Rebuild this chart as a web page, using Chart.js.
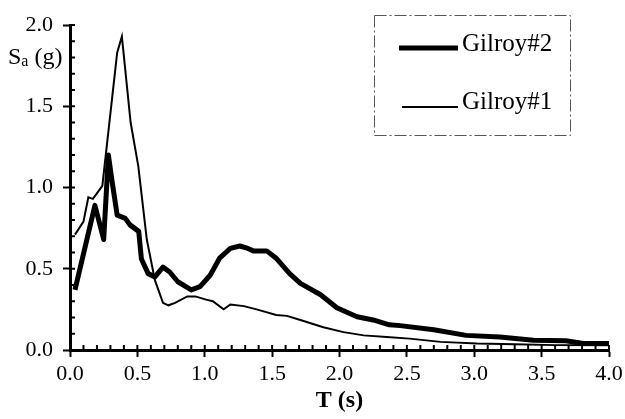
<!DOCTYPE html>
<html><head><meta charset="utf-8">
<script src="https://cdn.jsdelivr.net/npm/chart.js@4"></script>
<style>html,body{margin:0;padding:0;background:#fff}</style>
</head><body>
<canvas id="c" width="625" height="419"></canvas>
<script>
// Gilroy#2 (thick)
const periods2 = [0.037,0.185,0.25,0.285,0.31,0.35,0.41,0.445,0.51,0.53,0.58,0.63,0.69,0.74,0.80,0.90,0.965,1.04,1.11,1.19,1.26,1.32,1.36,1.46,1.53,1.63,1.71,1.86,1.98,2.13,2.25,2.37,2.45,2.70,2.94,3.19,3.44,3.68,3.81,4.0];
const sa2 =      [0.37,0.89,0.68,1.20,1.05,0.83,0.81,0.77,0.73,0.56,0.47,0.45,0.51,0.48,0.42,0.37,0.39,0.46,0.565,0.625,0.64,0.625,0.61,0.61,0.565,0.47,0.41,0.34,0.26,0.205,0.185,0.155,0.15,0.125,0.09,0.08,0.06,0.057,0.04,0.04];
// Gilroy#1 (thin)
const periods1 = [0.037,0.10,0.136,0.17,0.24,0.35,0.385,0.45,0.507,0.57,0.63,0.69,0.73,0.78,0.87,0.93,1.01,1.06,1.14,1.19,1.29,1.385,1.53,1.61,1.71,1.88,2.03,2.18,2.35,2.52,2.75,3.02,3.3,3.6,4.0];
const sa1 =      [0.71,0.79,0.94,0.93,1.01,1.83,1.93,1.40,1.13,0.68,0.43,0.29,0.275,0.29,0.33,0.33,0.31,0.30,0.25,0.28,0.27,0.25,0.215,0.21,0.185,0.14,0.11,0.09,0.08,0.07,0.05,0.04,0.035,0.03,0.03];
const seriesNames = ['Gilroy#2','Gilroy#1'];
const xTitle = 'T (s)';
const yTitleParts = ['S','a',' (g)'];
const xRange = [0, 4], yRange = [0, 2];

const FONT = "'Liberation Serif', 'Times New Roman', serif";

const toPts = (xs, ys) => xs.map((t, i) => ({x: t, y: ys[i]}));

const decor = {
  id: 'decor',
  afterDraw(chart) {
    const {ctx, scales: {x, y}, chartArea: a} = chart;
    ctx.save();
    ctx.strokeStyle = '#000';
    ctx.lineWidth = 2;
    // inward minor + major ticks
    for (let i = 0; i <= 40; i++) {
      const px = x.getPixelForValue(i / 10);
      ctx.beginPath(); ctx.moveTo(px, a.bottom); ctx.lineTo(px, a.bottom - 5); ctx.stroke();
    }
    for (let i = 0; i <= 20; i++) {
      const py = y.getPixelForValue(i / 10);
      ctx.beginPath(); ctx.moveTo(a.left, py); ctx.lineTo(a.left + 5, py); ctx.stroke();
    }
    // y title  S_a (g)
    ctx.fillStyle = '#000';
    ctx.textBaseline = 'alphabetic';
    ctx.textAlign = 'left';
    let tx = 8;
    ctx.font = '24px ' + FONT; ctx.fillText(yTitleParts[0], tx, 64); tx += ctx.measureText(yTitleParts[0]).width;
    ctx.font = '16px ' + FONT; ctx.fillText(yTitleParts[1], tx, 66); tx += ctx.measureText(yTitleParts[1]).width;
    ctx.font = '24px ' + FONT; ctx.fillText(yTitleParts[2], tx, 64);
    // legend
    ctx.strokeStyle = '#555'; ctx.lineWidth = 1; ctx.setLineDash([12, 3, 2, 3]);
    ctx.strokeRect(374.5, 15.5, 196, 120);
    ctx.setLineDash([]);
    const rows = [{y: 48, ty: 51}, {y: 107, ty: 109}];
    chart.data.datasets.forEach((ds, i) => {
      ctx.strokeStyle = '#000'; ctx.lineWidth = ds.borderWidth;
      ctx.beginPath(); ctx.moveTo(i === 0 ? 399 : 402, rows[i].y); ctx.lineTo(458, rows[i].y); ctx.stroke();
      ctx.font = '25px ' + FONT;
      ctx.fillText(ds.label, 462, rows[i].ty);
    });
    ctx.restore();
  }
};

new Chart(document.getElementById('c'), {
  type: 'line',
  data: {
    datasets: [
      {label: seriesNames[0], data: toPts(periods2, sa2), borderColor: '#000', borderWidth: 5, pointRadius: 0, tension: 0, fill: false, borderJoinStyle: 'round'},
      {label: seriesNames[1], data: toPts(periods1, sa1), borderColor: '#000', borderWidth: 2, pointRadius: 0, tension: 0, fill: false}
    ]
  },
  options: {
    responsive: false,
    animation: false,
    layout: {padding: {left: 0, top: 25, right: 16, bottom: 0}},
    plugins: {legend: {display: false}, tooltip: {enabled: false}},
    scales: {
      x: {
        type: 'linear', min: xRange[0], max: xRange[1],
        afterFit: s => { s.height = 69; s.paddingRight = 0; s.paddingLeft = 0; },
        ticks: {stepSize: 0.5, color: '#000', font: {family: FONT, size: 22}, padding: 4, callback: v => Number(v).toFixed(1), maxRotation: 0, autoSkip: false},
        grid: {drawOnChartArea: false, drawTicks: true, tickLength: 7, tickWidth: 2, tickColor: '#000'},
        border: {display: true, width: 3, color: '#000'},
        title: {display: true, text: xTitle, color: '#000', font: {family: FONT, size: 24, weight: 'bold'}, padding: {top: 0, bottom: 4}}
      },
      y: {
        type: 'linear', min: yRange[0], max: yRange[1],
        afterFit: s => { s.width = 70; },
        ticks: {stepSize: 0.5, color: '#000', font: {family: FONT, size: 22}, padding: 10, callback: v => Number(v).toFixed(1)},
        grid: {drawOnChartArea: false, drawTicks: true, tickLength: 7, tickWidth: 2, tickColor: '#000'},
        border: {display: true, width: 3, color: '#000'}
      }
    }
  },
  plugins: [decor]
});
</script>
</body></html>
